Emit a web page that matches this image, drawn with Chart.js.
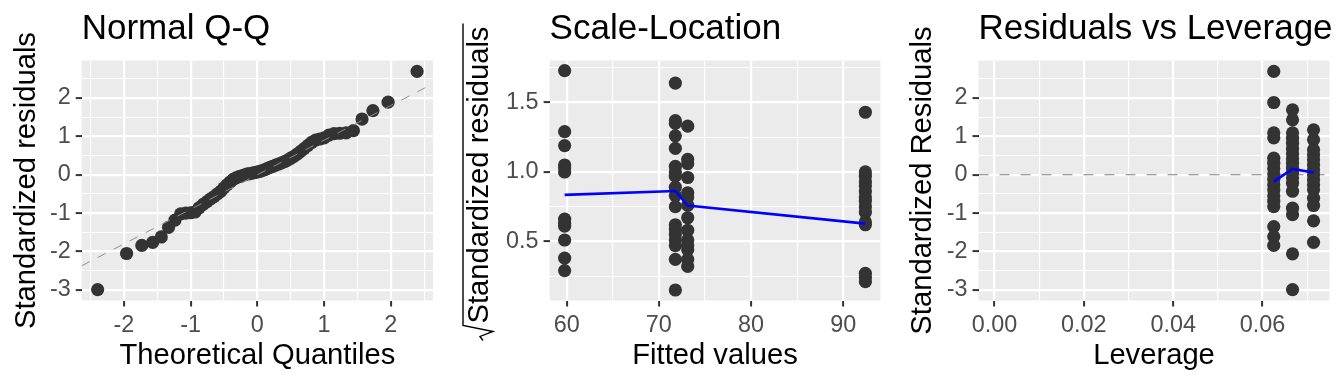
<!DOCTYPE html>
<html>
<head>
<meta charset="utf-8">
<script src="https://cdn.jsdelivr.net/npm/chart.js@4.4.1/dist/chart.umd.min.js"></script>
<style>
  html, body { margin: 0; padding: 0; background: #fff; }
  #wrap { display: flex; width: 1344px; height: 384px; }
  .panel { width: 448px; height: 384px; }
</style>
</head>
<body>
<div id="wrap">
  <div class="panel"><canvas id="qq" width="448" height="384"></canvas></div>
  <div class="panel"><canvas id="sl" width="448" height="384"></canvas></div>
  <div class="panel"><canvas id="rl" width="448" height="384"></canvas></div>
</div>
<script>
// ---- Normal Q-Q ----
const qqTheoretical = [
  -2.394, -1.960, -1.732, -1.569, -1.440, -1.331, -1.235, -1.150, -1.073, -1.001,
  -0.935, -0.872, -0.812, -0.755, -0.701, -0.649, -0.598, -0.548, -0.501, -0.454,
  -0.408, -0.363, -0.319, -0.275, -0.232, -0.189, -0.147, -0.105, -0.063, -0.021,
  0.021, 0.063, 0.105, 0.147, 0.189, 0.232, 0.275, 0.319, 0.363, 0.408,
  0.454, 0.501, 0.548, 0.598, 0.649, 0.701, 0.755, 0.812, 0.872, 0.935,
  1.001, 1.073, 1.150, 1.235, 1.331, 1.440, 1.569, 1.732, 1.960, 2.394
];
const qqResiduals = [
  -2.99, -2.05, -1.84, -1.76, -1.62, -1.37, -1.18, -1.02, -1.00, -0.99,
  -0.97, -0.86, -0.77, -0.70, -0.63, -0.57, -0.50, -0.43, -0.34, -0.26,
  -0.19, -0.12, -0.08, -0.05, -0.03, 0.00, 0.02, 0.03, 0.05, 0.06,
  0.08, 0.10, 0.13, 0.16, 0.19, 0.22, 0.25, 0.28, 0.31, 0.34,
  0.38, 0.43, 0.48, 0.54, 0.61, 0.68, 0.76, 0.84, 0.90, 0.93,
  0.96, 1.03, 1.07, 1.08, 1.09, 1.15, 1.45, 1.67, 1.89, 2.69
];
const qqLineX = [-2.633, 2.633];
const qqLineY = [-2.37, 2.37];
const qqXTicks = [-2, -1, 0, 1, 2];
const qqXMinor = [-2.5, -1.5, -0.5, 0.5, 1.5, 2.5];
const qqXLabels = ['-2', '-1', '0', '1', '2'];
const residTicks = [-3, -2, -1, 0, 1, 2];
const residMinor = [-2.5, -1.5, -0.5, 0.5, 1.5, 2.5];
const residLabels = ['-3', '-2', '-1', '0', '1', '2'];

// ---- Scale-Location ----
const slFitted = [59.78, 71.79, 73.13, 92.4];
const slGroup1 = [1.73, 1.29, 1.19, 1.05, 1.03, 1.00, 0.66, 0.63, 0.61, 0.51, 0.38, 0.29];
const slGroup2 = [1.64, 1.37, 1.35, 1.26, 1.17, 1.04, 1.00, 0.97, 0.89, 0.83, 0.75, 0.62, 0.59, 0.55, 0.51, 0.47, 0.37, 0.15];
const slGroup3 = [1.33, 1.09, 1.06, 0.96, 0.85, 0.82, 0.76, 0.67, 0.58, 0.51, 0.47, 0.44, 0.37, 0.32];
const slGroup4 = [1.43, 1.00, 0.97, 0.93, 0.90, 0.86, 0.82, 0.79, 0.75, 0.71, 0.64, 0.62, 0.27, 0.24, 0.21];
const slSmooth = [0.835, 0.863, 0.758, 0.628];
const slXTicks = [60, 70, 80, 90];
const slXMinor = [65, 75, 85];
const slXLabels = ['60', '70', '80', '90'];
const slYTicks = [0.5, 1.0, 1.5];
const slYMinor = [0.25, 0.75, 1.25, 1.75];
const slYLabels = ['0.5', '1.0', '1.5'];

// ---- Residuals vs Leverage ----
const rlLeverage = [0.0625, 0.0667, 0.0714];
const rlGroupA = [2.69, 1.88, 1.09, 0.96, 0.43, 0.30, 0.16, 0.02, -0.12, -0.26, -0.40, -0.55, -0.69, -0.83, -1.35, -1.61, -1.84];
const rlGroupB = [1.69, 1.43, 1.09, 0.95, 0.82, 0.68, 0.55, 0.42, 0.30, 0.17, 0.05, -0.08, -0.22, -0.43, -0.87, -1.04, -2.06, -2.99];
const rlGroupC = [1.17, 0.91, 0.65, 0.52, 0.39, 0.26, 0.13, 0.00, -0.13, -0.26, -0.39, -0.61, -0.80, -1.20, -1.76];
const rlSmooth = [-0.18, 0.15, 0.06];
const rlZeroX = [-0.00357, 0.07497];
const rlZeroY = [0, 0];
const rlXTicks = [0, 0.02, 0.04, 0.06];
const rlXMinor = [0.01, 0.03, 0.05, 0.07];
const rlXLabels = ['0.00', '0.02', '0.04', '0.06'];

const FONT = '"Liberation Sans", Arial, sans-serif';
const PANEL_BG = '#EBEBEB';
const POINT = '#333333';

// grey panel background + plot title at the panel's left edge
const panelDecor = {
  id: 'panelDecor',
  beforeDraw(chart, args, opts) {
    const { ctx, chartArea: a } = chart;
    ctx.save();
    ctx.fillStyle = PANEL_BG;
    ctx.fillRect(a.left, a.top, a.right - a.left, a.bottom - a.top);
    ctx.restore();
  },
  afterDraw(chart, args, opts) {
    if (!opts.title) return;
    const { ctx, chartArea: a } = chart;
    ctx.save();
    ctx.font = '35px ' + FONT;
    ctx.fillStyle = '#000';
    ctx.textBaseline = 'alphabetic';
    ctx.textAlign = 'left';
    ctx.fillText(opts.title, a.left, 39);
    ctx.restore();
  }
};

// y title with a square-root sign over it (Scale-Location)
const sqrtTitle = {
  id: 'sqrtTitle',
  afterDraw(chart, args, opts) {
    if (!opts.text) return;
    const { ctx, chartArea: a } = chart;
    ctx.save();
    ctx.font = '29.2px ' + FONT;
    const w = ctx.measureText(opts.text).width;
    const rad = 17;
    ctx.translate(opts.x, (a.top + a.bottom) / 2 + 3);
    ctx.rotate(-Math.PI / 2);
    const start = -(w + rad) / 2 + rad;
    ctx.fillStyle = '#000';
    ctx.textBaseline = 'middle';
    ctx.textAlign = 'left';
    ctx.fillText(opts.text, start, 0);
    ctx.strokeStyle = '#000';
    ctx.lineWidth = 1.4;
    ctx.beginPath();
    ctx.moveTo(start - rad, 3);
    ctx.lineTo(start - rad + 4, 0);
    ctx.lineTo(start - rad + 9, 13);
    ctx.lineTo(start - 2, -17);
    ctx.lineTo(start + w + 3, -17);
    ctx.stroke();
    ctx.restore();
  }
};

function axis(opts) {
  const { min, max, major, minor, labels, title, size, isX } = opts;
  return {
    type: 'linear',
    min: min,
    max: max,
    afterBuildTicks: s => {
      s.ticks = minor.map(v => ({ value: v, minor: true })).concat(major.map(v => ({ value: v })));
    },
    afterFit: s => {
      if (isX) s.height = size; else s.width = size;
    },
    ticks: {
      autoSkip: false,
      maxRotation: 0,
      minRotation: 0,
      padding: 5,
      color: '#4D4D4D',
      font: { family: FONT, size: 23.4 },
      callback: (v, i, t) => t[i].minor ? '' : labels[major.indexOf(t[i].value)]
    },
    grid: {
      color: '#FFFFFF',
      lineWidth: c => (c.tick && c.tick.minor) ? 1.1 : 2.2,
      drawTicks: true,
      tickLength: 6,
      tickWidth: 2,
      tickColor: c => (c.tick && c.tick.minor) ? 'rgba(0,0,0,0)' : '#333333'
    },
    border: { display: false },
    title: {
      display: !!title,
      text: title || '',
      color: '#000',
      font: { family: FONT, size: 29.2 },
      padding: isX ? { top: 0, bottom: 10.5 } : { top: 9, bottom: 0 }
    }
  };
}

function pts(xs, ys) {
  return xs.map((x, i) => ({ x: x, y: ys[i] }));
}
function col(x, ys) {
  return ys.map(y => ({ x: x, y: y }));
}

const pointStyle = { pointRadius: 6.6, pointBackgroundColor: POINT, pointBorderWidth: 0, showLine: false };

function baseOptions(title, rightPad, x, y, extra) {
  return {
    responsive: false,
    animation: false,
    devicePixelRatio: 1,
    layout: { padding: { left: 0, top: 60.5, right: rightPad, bottom: 0 } },
    scales: { x: x, y: y },
    plugins: Object.assign({
      legend: { display: false },
      tooltip: { enabled: false },
      panelDecor: { title: title }
    }, extra || {})
  };
}

// Normal Q-Q
new Chart(document.getElementById('qq'), {
  type: 'scatter',
  data: {
    datasets: [
      { data: pts(qqLineX, qqLineY), showLine: true, pointRadius: 0, borderColor: '#8E8E8E', borderWidth: 1, borderDash: [9, 9] },
      Object.assign({ data: pts(qqTheoretical, qqResiduals) }, pointStyle)
    ]
  },
  options: baseOptions('Normal Q-Q', 15,
    axis({ min: -2.633, max: 2.633, major: qqXTicks, minor: qqXMinor, labels: qqXLabels, title: 'Theoretical Quantiles', size: 83.5, isX: true }),
    axis({ min: -3.274, max: 2.974, major: residTicks, minor: residMinor, labels: residLabels, title: 'Standardized residuals', size: 81.7, isX: false })
  ),
  plugins: [panelDecor]
});

// Scale-Location
new Chart(document.getElementById('sl'), {
  type: 'scatter',
  data: {
    datasets: [
      { data: pts(slFitted, slSmooth), showLine: true, pointRadius: 0, borderColor: '#0000FF', borderWidth: 2.6 },
      Object.assign({ data: col(slFitted[0], slGroup1) }, pointStyle),
      Object.assign({ data: col(slFitted[1], slGroup2) }, pointStyle),
      Object.assign({ data: col(slFitted[2], slGroup3) }, pointStyle),
      Object.assign({ data: col(slFitted[3], slGroup4) }, pointStyle)
    ]
  },
  options: baseOptions('Scale-Location', 15.6,
    axis({ min: 58.15, max: 94.03, major: slXTicks, minor: slXMinor, labels: slXLabels, title: 'Fitted values', size: 83.5, isX: true }),
    axis({ min: 0.0744, max: 1.8026, major: slYTicks, minor: slYMinor, labels: slYLabels, title: '', size: 101.6, isX: false }),
    { sqrtTitle: { text: 'Standardized residuals', x: 32 } }
  ),
  plugins: [panelDecor, sqrtTitle]
});

// Residuals vs Leverage
new Chart(document.getElementById('rl'), {
  type: 'scatter',
  data: {
    datasets: [
      { data: pts(rlLeverage, rlSmooth), showLine: true, pointRadius: 0, borderColor: '#0000FF', borderWidth: 2.6 },
      Object.assign({ data: col(rlLeverage[0], rlGroupA) }, pointStyle),
      Object.assign({ data: col(rlLeverage[1], rlGroupB) }, pointStyle),
      Object.assign({ data: col(rlLeverage[2], rlGroupC) }, pointStyle),
      { data: pts(rlZeroX, rlZeroY), showLine: true, pointRadius: 0, borderColor: '#7F7F7F', borderWidth: 1.2, borderDash: [10, 11] }
    ]
  },
  options: baseOptions('Residuals vs Leverage', 14.5,
    axis({ min: -0.00357, max: 0.07497, major: rlXTicks, minor: rlXMinor, labels: rlXLabels, title: 'Leverage', size: 83.5, isX: true }),
    axis({ min: -3.274, max: 2.974, major: residTicks, minor: residMinor, labels: residLabels, title: 'Standardized Residuals', size: 82.5, isX: false })
  ),
  plugins: [panelDecor]
});
</script>
</body>
</html>
